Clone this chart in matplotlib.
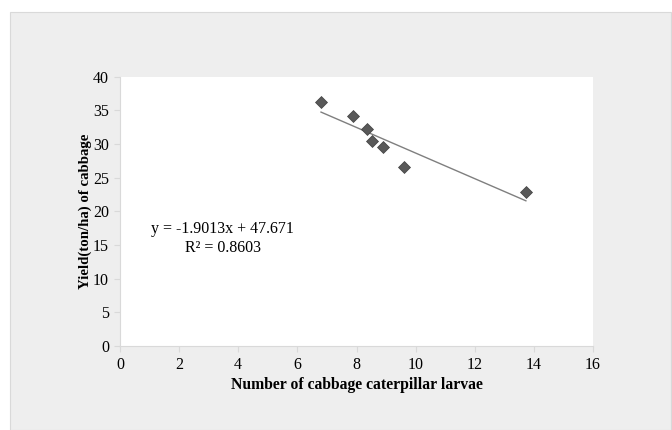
import numpy as np
import matplotlib
matplotlib.use("Agg")
import matplotlib.pyplot as plt
from matplotlib.patches import Rectangle

# data
larvae = [6.80, 7.89, 8.34, 8.51, 8.88, 9.62, 13.73]
yield_t = [36.3, 34.1, 32.3, 30.4, 29.5, 26.6, 22.9]

# trendline as printed on the chart
slope = -1.9013
intercept = 47.671
r2 = 0.8603

xticks = [0, 2, 4, 6, 8, 10, 12, 14, 16]
yticks = [0, 5, 10, 15, 20, 25, 30, 35, 40]

plt.rcParams['font.family'] = ['Liberation Serif', 'DejaVu Serif']

fig = plt.figure(figsize=(6.72, 4.30), dpi=100)
fig.patch.set_facecolor('white')

# grey chart area with thin border
panel = Rectangle((10 / 672, 0), 661 / 672, 1 - 12 / 430, transform=fig.transFigure,
                  facecolor='#eeeeee', edgecolor='#d9d9d9', linewidth=0.8, zorder=-5)
fig.add_artist(panel)

ax = fig.add_axes([120 / 672, 1 - 346 / 430, 473 / 672, 269.3 / 430])
ax.set_zorder(2)
ax.set_facecolor('white')

ax.plot(larvae, yield_t, linestyle='none', marker='D', markersize=6,
        color='#595959', markeredgecolor='#404040', markeredgewidth=0.5, zorder=3)

xs = np.array([min(larvae), max(larvae)])
ax.plot(xs, slope * xs + intercept, color='#7f7f7f', linewidth=1.0, zorder=2)

ax.text(3.48, 15.9, 'y = -1.9013x + 47.671\nR\u00b2 = %.4f' % r2, ha='center', va='center',
        multialignment='center', fontsize=11.5, linespacing=1.25)

ax.set_xlim(0, 16)
ax.set_ylim(0, 40)
ax.set_xticks(xticks)
ax.set_yticks(yticks)
ax.tick_params(axis='both', length=4, width=0.8, color='#d9d9d9', labelsize=11.5, pad=4)

for s in ['top', 'right']:
    ax.spines[s].set_visible(False)
for s in ['left', 'bottom']:
    ax.spines[s].set_color('#d9d9d9')
    ax.spines[s].set_linewidth(0.8)

ax.set_xlabel('Number of cabbage caterpillar larvae', fontsize=11.3, fontweight='bold', labelpad=3)
ax.set_ylabel('Yield(ton/ha) of cabbage', fontsize=10.7, fontweight='bold', labelpad=1)

fig.savefig('out.png', dpi=100, facecolor=fig.get_facecolor())
